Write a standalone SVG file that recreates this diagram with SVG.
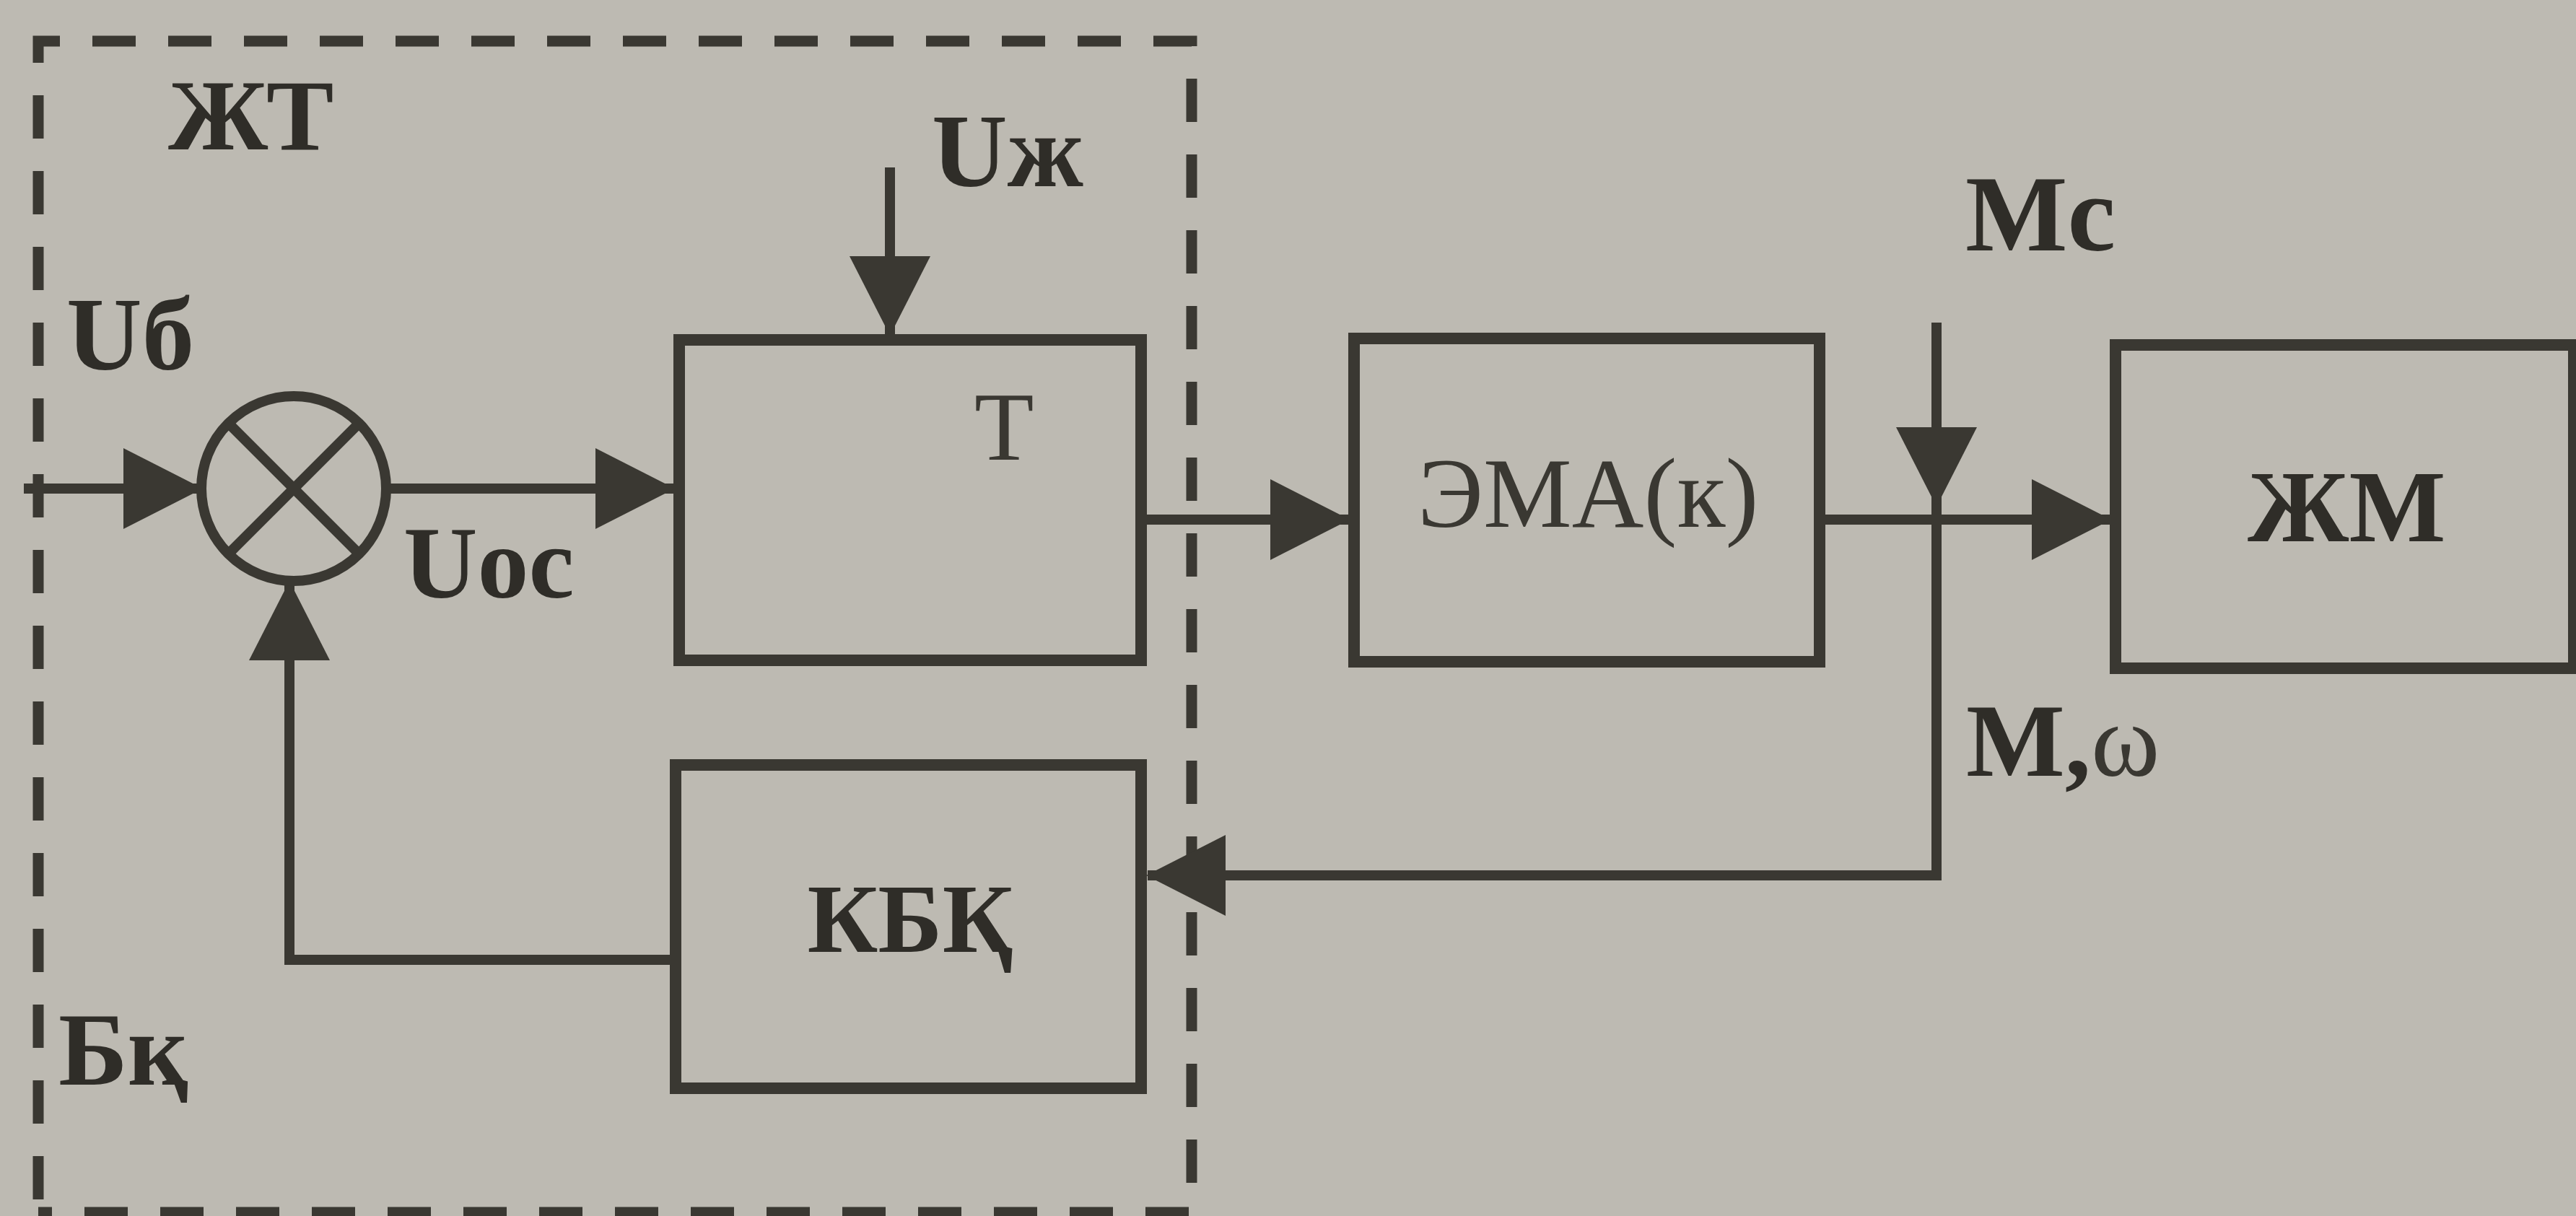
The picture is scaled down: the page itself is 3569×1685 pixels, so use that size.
<svg xmlns="http://www.w3.org/2000/svg" width="3569" height="1685" viewBox="0 0 3569 1685">
<style>
.bg{fill:#bdbab2}
.box{fill:none;stroke:#3a3832;stroke-width:16}
.ln{fill:none;stroke:#3a3832;stroke-width:14}
.dash{fill:none;stroke:#3a3832;stroke-width:15;stroke-dasharray:60 45;stroke-dashoffset:87}
.tb{font-family:"Liberation Serif",serif;font-weight:bold;fill:#2f2d28}
.tr{font-family:"Liberation Serif",serif;font-weight:normal;fill:#3a3832}
</style>
<defs>
<marker id="ah" markerUnits="userSpaceOnUse" markerWidth="110" markerHeight="112" refX="108" refY="56" orient="auto">
<path d="M0,0 L110,56 L0,112 Z" fill="#3a3832"/>
</marker>
</defs>
<rect class="bg" x="0" y="0" width="3569" height="1685"/>

<g id="jt-boundary">
<path class="dash" d="M53,1680 L53,57 L1651,57 L1651,1680 L53,1680"/>
<text class="tb" x="233" y="207" font-size="140">ЖТ</text>
</g>

<g id="connectors">
<line class="ln" x1="33" y1="677" x2="279" y2="677" marker-end="url(#ah)"/>
<line class="ln" x1="535" y1="677" x2="933" y2="677" marker-end="url(#ah)"/>
<line class="ln" x1="1233" y1="232" x2="1233" y2="463" marker-end="url(#ah)"/>
<line class="ln" x1="1589" y1="720" x2="1868" y2="720" marker-end="url(#ah)"/>
<line class="ln" x1="2529" y1="720" x2="2923" y2="720" marker-end="url(#ah)"/>
<line class="ln" x1="2683" y1="447" x2="2683" y2="700" marker-end="url(#ah)"/>
<path class="ln" d="M2683,700 L2683,1213 L1590,1213" marker-end="url(#ah)"/>
<path class="ln" d="M928,1330 L401,1330 L401,807" marker-end="url(#ah)"/>
</g>

<g id="sum">
<circle class="ln" cx="407" cy="677" r="128"/>
<line class="ln" x1="316" y1="586" x2="498" y2="768"/>
<line class="ln" x1="498" y1="586" x2="316" y2="768"/>
</g>

<g id="node-T">
<rect class="box" x="941" y="471" width="640" height="444"/>
<text class="tr" x="1350" y="637" font-size="135">T</text>
</g>

<g id="node-KBK">
<rect class="box" x="936" y="1060" width="645" height="448"/>
<text class="tb" x="1261" y="1319" font-size="135" text-anchor="middle">КБҚ</text>
</g>

<g id="node-EMA">
<rect class="box" x="1876" y="469" width="645" height="448"/>
<text class="tr" x="1964" y="730" font-size="138">ЭМА(к)</text>
</g>

<g id="node-JM">
<rect class="box" x="2931" y="478" width="635" height="448"/>
<text class="tb" x="3114" y="750" font-size="142">ЖМ</text>
</g>

<g id="labels">
<text class="tb" x="1291" y="258" font-size="145">Uж</text>
<text class="tb" x="92" y="512" font-size="145">Uб</text>
<text class="tb" x="559" y="828" font-size="142">Uoc</text>
<text class="tb" x="81" y="1503" font-size="145">Бқ</text>
<text class="tb" x="2723" y="347" font-size="150">Mc</text>
<text class="tb" x="2724" y="1075" font-size="145">M,<tspan class="tr" font-weight="normal">ω</tspan></text>
</g>
</svg>
